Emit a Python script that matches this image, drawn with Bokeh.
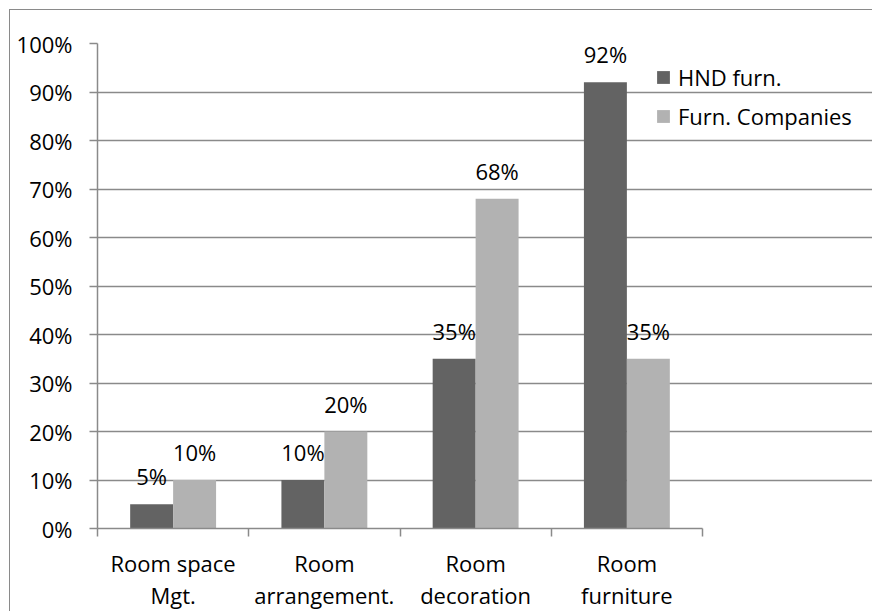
from bokeh.plotting import figure
from bokeh.models import (Range1d, FixedTicker, NumeralTickFormatter, ColumnDataSource,
                          Legend, LegendItem)
from bokeh.core.properties import value
from bokeh.embed import file_html
from bokeh.resources import INLINE

# ---- data ----
categories = ["Room space\nMgt.", "Room\narrangement.", "Room\ndecoration", "Room\nfurniture"]
series_names = ["HND furn.", "Furn. Companies"]
hnd_furn = [0.05, 0.10, 0.35, 0.92]
furn_companies = [0.10, 0.20, 0.68, 0.35]
y_ticks = [0.0, 0.1, 0.2, 0.3, 0.4, 0.5, 0.6, 0.7, 0.8, 0.9, 1.0]

# ---- style ----
FONT = "Open Sans"
FS = "22px"
DARK = "#636363"
LIGHT = "#b2b2b2"
GRID = "#8a8a8a"

FIG_W, FIG_H = 863, 602
LEFT, TOP, BOTTOM = 87, 33, 83
BARS_PX = 605                     # pixel width of the category area
FRAME_PX = FIG_W - LEFT           # frame runs to the right edge (room for legend)
n = len(categories)
x_end = n * FRAME_PX / BARS_PX

idx = list(range(n))
offset = 0.142
bw = 0.284

src = ColumnDataSource(dict(
    x1=[i + 0.5 - offset for i in idx],
    x2=[i + 0.5 + offset for i in idx],
    hnd=hnd_furn,
    furn=furn_companies,
    hnd_lbl=[f"{v:.0%}" for v in hnd_furn],
    furn_lbl=[f"{v:.0%}" for v in furn_companies],
))

p = figure(width=FIG_W, height=FIG_H,
           x_range=Range1d(0, x_end), y_range=Range1d(0, 1),
           output_backend="svg", toolbar_location=None,
           min_border_left=LEFT, min_border_right=0,
           min_border_top=TOP, min_border_bottom=BOTTOM)
p.styles = {"margin-left": "9px", "margin-top": "9px",
            "border-left": "1px solid #8a8a8a", "border-top": "1px solid #8a8a8a"}
p.outline_line_color = None
p.background_fill_color = "white"
p.border_fill_color = "white"

r1 = p.vbar(x="x1", top="hnd", bottom=0, width=bw, fill_color=DARK, line_color=None, source=src)
r2 = p.vbar(x="x2", top="furn", bottom=0, width=bw, fill_color=LIGHT, line_color=None, source=src)

for xcol, ycol, tcol in (("x1", "hnd", "hnd_lbl"), ("x2", "furn", "furn_lbl")):
    p.text(x=xcol, y=ycol, text=tcol, source=src, text_align="center",
           text_baseline="alphabetic", y_offset=-28,
           text_font=value(FONT), text_font_size=FS, text_color="black")

# grid
p.xgrid.visible = False
p.ygrid.grid_line_color = GRID
p.ygrid.grid_line_width = 1.5
p.ygrid.ticker = FixedTicker(ticks=y_ticks)
p.ygrid.bounds = (0, n)

# y axis
yax = p.yaxis[0]
yax.ticker = FixedTicker(ticks=y_ticks)
yax.formatter = NumeralTickFormatter(format="0%")
yax.axis_line_color = GRID
yax.axis_line_width = 1.5
yax.major_tick_line_color = GRID
yax.major_tick_line_width = 1.5
yax.major_tick_out = 8
yax.major_tick_in = 0
yax.minor_tick_line_color = None
yax.major_label_standoff = 17
yax.major_label_text_font = FONT
yax.major_label_text_font_size = FS
yax.major_label_text_color = "black"

# x axis
xax = p.xaxis[0]
xax.bounds = (0, n)
xax.ticker = FixedTicker(ticks=[i + 0.5 for i in idx], minor_ticks=list(range(n + 1)))
xax.major_label_overrides = {i + 0.5: c for i, c in zip(idx, categories)}
xax.axis_line_color = GRID
xax.axis_line_width = 1.5
xax.major_tick_line_color = None
xax.major_tick_out = 0
xax.major_tick_in = 0
xax.minor_tick_line_color = GRID
xax.minor_tick_line_width = 1.5
xax.minor_tick_out = 8
xax.minor_tick_in = 0
xax.major_label_standoff = 11
xax.major_label_text_font = FONT
xax.major_label_text_font_size = FS
xax.major_label_text_line_height = 1.07
xax.major_label_text_color = "black"
xax.major_label_orientation = "horizontal"

legend = Legend(items=[LegendItem(label=series_names[0], renderers=[r1]),
                       LegendItem(label=series_names[1], renderers=[r2])],
                location=(558, 397), orientation="vertical",
                background_fill_alpha=0, border_line_color=None,
                padding=0, margin=0, glyph_width=16, glyph_height=16,
                label_standoff=7, label_height=22, spacing=9,
                label_text_font=FONT, label_text_font_size=FS,
                label_text_color="black")
p.add_layout(legend)

open("out.html", "w").write(file_html(p, INLINE))
